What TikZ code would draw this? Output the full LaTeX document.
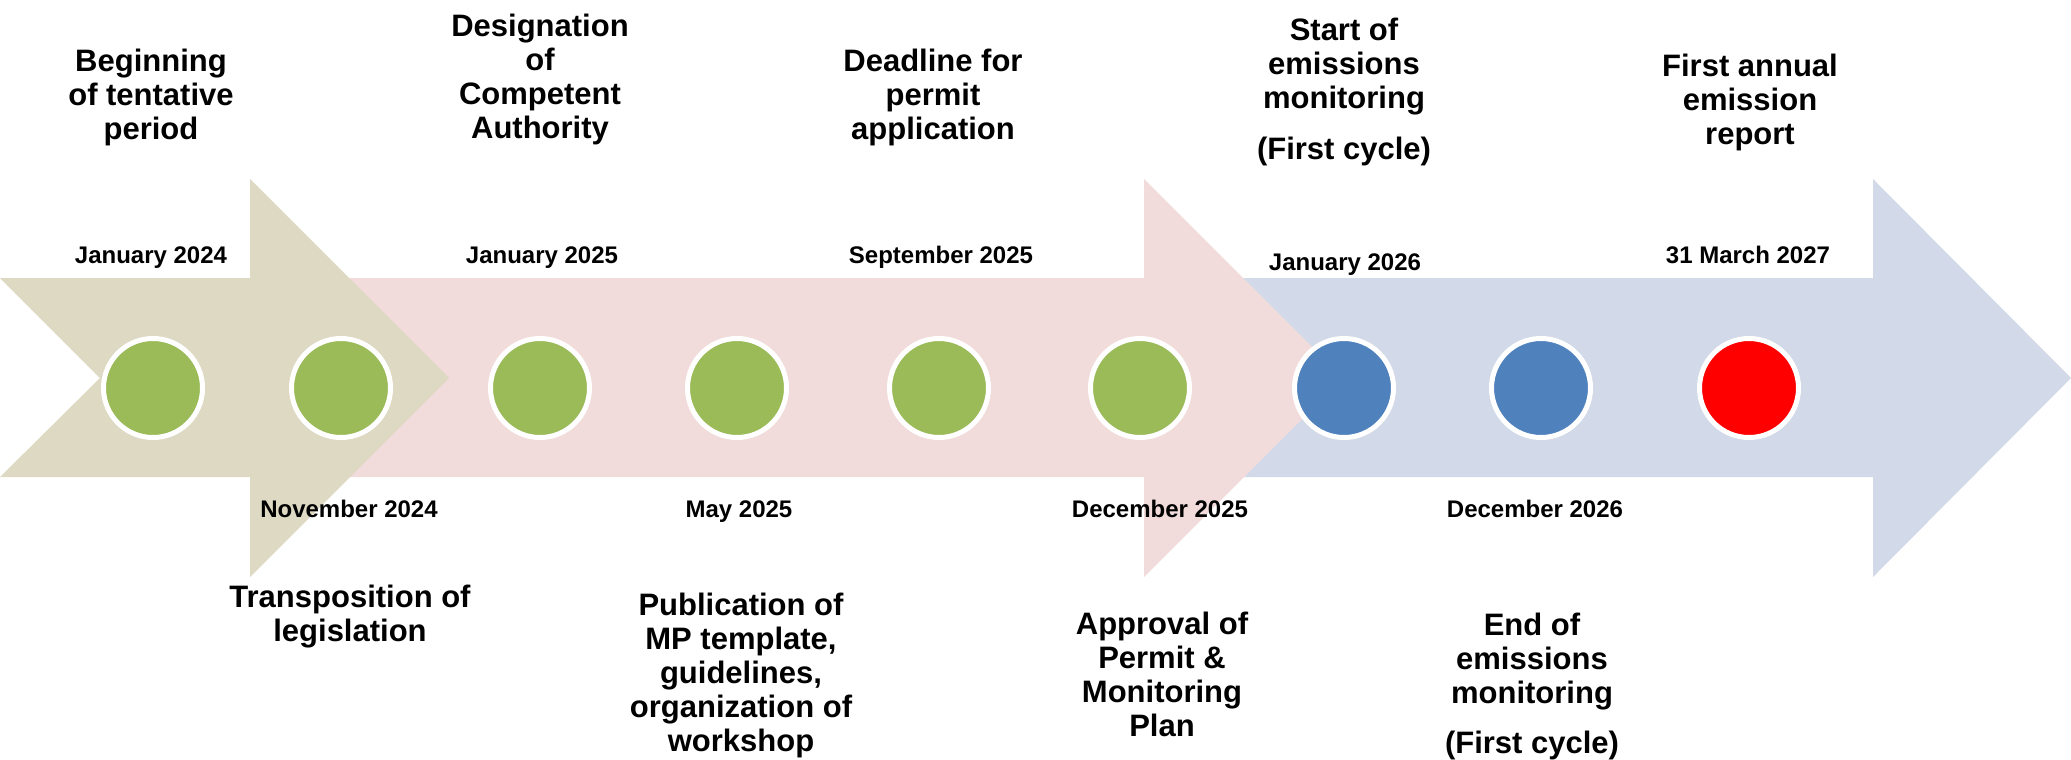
\documentclass[tikz,border=0pt]{standalone}
\usepackage{fontspec}
\setmainfont{Liberation Sans}
\usetikzlibrary{positioning}
\definecolor{tanband}{HTML}{DDD9C3}
\definecolor{pinkband}{HTML}{F2DCDB}
\definecolor{blueband}{HTML}{D2D9E8}
\definecolor{dotgreen}{HTML}{9BBB59}
\definecolor{dotblue}{HTML}{4F81BD}
\definecolor{dotred}{HTML}{FF0000}
\tikzset{
milestone/.style = {circle, draw=white, line width=3.75pt, minimum size=74.25pt, inner sep=0pt},
event/.style = {align=center, anchor=north, inner sep=0pt, font=\fontsize{23.25}{25.5}\selectfont\bfseries},
datelbl/.style = {anchor=base, inner sep=0pt, font=\fontsize{18}{21}\selectfont\bfseries}
}
\begin{document}
\begin{tikzpicture}[x=0.75pt, y=-0.75pt]
    \useasboundingbox (0,0) rectangle (2071,760);
    % We start by drawing the three bands, back to front
    \fill [blueband] (1144,278) -- (1873,278) -- (1873,179) -- (2071,378)
        -- (1873,577) -- (1873,477) -- (1144,477) -- cycle;
    \fill [pinkband] (260,278) -- (1144,278) -- (1144,179) -- (1343,378)
        -- (1144,577) -- (1144,477) -- (260,477) -- cycle;
    \fill [tanband] (0,278) -- (250,278) -- (250,179) -- (449,378)
        -- (250,577) -- (250,477) -- (0,477) -- (100,378) -- cycle;

    % Milestones
    \node [milestone, fill=dotgreen] (m1) at (153,388) {};
    \node [milestone, fill=dotgreen] (m2) at (341,388) {};
    \node [milestone, fill=dotgreen] (m3) at (540,388) {};
    \node [milestone, fill=dotgreen] (m4) at (737,388) {};
    \node [milestone, fill=dotgreen] (m5) at (939,388) {};
    \node [milestone, fill=dotgreen] (m6) at (1140,388) {};
    \node [milestone, fill=dotblue] (m7) at (1344,388) {};
    \node [milestone, fill=dotblue] (m8) at (1541,388) {};
    \node [milestone, fill=dotred] (m9) at (1749,388) {};

    % Dates
    \node [datelbl] (d1) at (151,263) {January 2024};
    \node [datelbl] (d2) at (349,517) {November 2024};
    \node [datelbl] (d3) at (542,263) {January 2025};
    \node [datelbl] (d4) at (739,517) {May 2025};
    \node [datelbl] (d5) at (941,263) {September 2025};
    \node [datelbl] (d6) at (1160,517) {December 2025};
    \node [datelbl] (d7) at (1345,270) {January 2026};
    \node [datelbl] (d8) at (1535,517) {December 2026};
    \node [datelbl] (d9) at (1748,263) {31 March 2027};

    % Events above and below the bands
    \node [event] (e1) at (151,49) {Beginning\\of tentative\\period};
    \node [event] (e2) at (540,14) {Designation\\of\\Competent\\Authority};
    \node [event] (e3) at (933,49) {Deadline for\\permit\\application};
    \node [event] (e4) at (1344,18) {Start of\\emissions\\monitoring\\[12.75pt](First cycle)};
    \node [event] (e5) at (1750,54) {First annual\\emission\\report};
    \node [event] (e6) at (350,585) {Transposition of\\legislation};
    \node [event] (e7) at (741,593) {Publication of\\MP template,\\guidelines,\\organization of\\workshop};
    \node [event] (e8) at (1162,612) {Approval of\\Permit \&\\Monitoring\\Plan};
    \node [event] (e9) at (1532,613) {End of\\emissions\\monitoring\\[12pt](First cycle)};
\end{tikzpicture}
\end{document}
